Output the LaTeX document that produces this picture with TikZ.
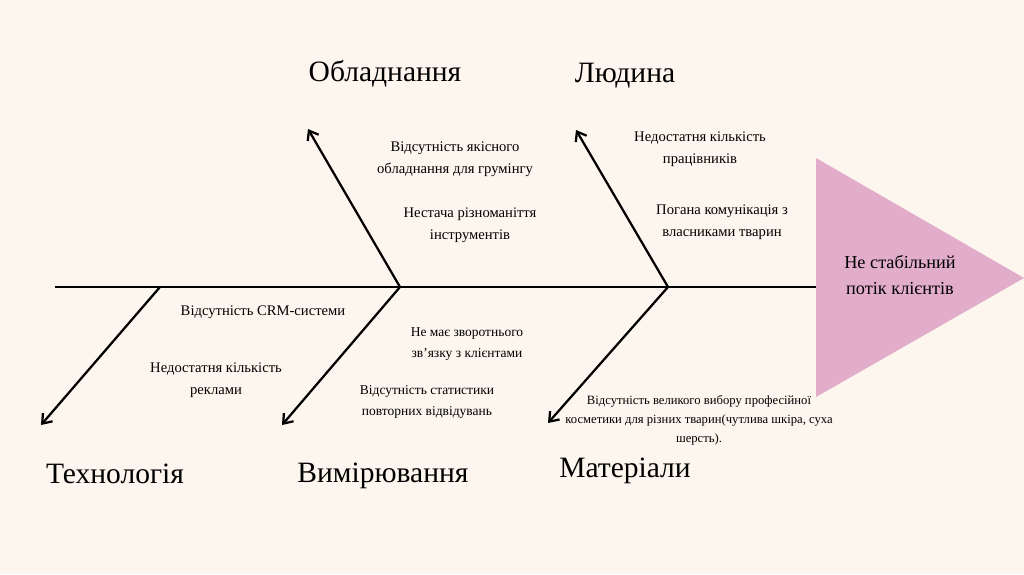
\documentclass[tikz,border=0pt]{standalone}
\usepackage{fontspec}
\setmainfont{Liberation Serif}
\usetikzlibrary{arrows.meta}
\definecolor{bgcream}{RGB}{253,246,238}
\definecolor{headpink}{RGB}{226,172,203}

\begin{document}
\begin{tikzpicture}[x=0.025cm, y=-0.025cm,
  spine/.style={line width=1.8pt},
  bone/.style={line width=1.6pt, -{Straight Barb[length=6pt, width=9pt]}},
  cat/.style={font=\fontsize{21}{25}\selectfont},
  cause/.style={align=center, font=\fontsize{10.4}{16}\selectfont},
  smallcause/.style={align=center, font=\fontsize{9.6}{14.5}\selectfont}]

  % фон і межі
  \fill[bgcream] (0,0) rectangle (1024,574);

  % хребет і голова
  \coordinate (S) at (55,287);
  \coordinate (H) at (816,287);
  \coordinate (J1) at (160,287);
  \coordinate (J2) at (400,287);
  \coordinate (J3) at (668,287);
  \fill[headpink] (816,158) -- (816,397) -- (1024,278) -- cycle;
  \draw[spine] (S) -- (H);

  % кістки
  \coordinate (T1) at (308,129);
  \coordinate (T2) at (576,130);
  \coordinate (B1) at (41,425);
  \coordinate (B2) at (282,425);
  \coordinate (B3) at (548,423);
  \draw[bone] (J2) -- (T1);
  \draw[bone] (J3) -- (T2);
  \draw[bone] (J1) -- (B1);
  \draw[bone] (J2) -- (B2);
  \draw[bone] (J3) -- (B3);

  % категорії
  \node[cat] (obl) at (385,74) {Обладнання};
  \node[cat] (lyud) at (625,76) {Людина};
  \node[cat] (tekh) at (115,474) {Технологія};
  \node[cat] (vym) at (383,476) {Вимірювання};
  \node[cat] (mat) at (625,471) {Матеріали};

  % наслідок
  \node[align=center, font=\fontsize{13}{18}\selectfont] (effect) at (900,275)
    {Не стабільний\\потік клієнтів};

  % причини
  \node[cause] (c1) at (455,159) {Відсутність якісного\\обладнання для грумінгу};
  \node[cause] (c2) at (470,225) {Нестача різноманіття\\інструментів};
  \node[cause] (c3) at (700,149) {Недостатня кількість\\працівників};
  \node[cause] (c4) at (722,222) {Погана комунікація з\\власниками тварин};
  \node[cause] (c5) at (263,312) {Відсутність CRM-системи};
  \node[cause] (c6) at (216,380) {Недостатня кількість\\реклами};
  \node[smallcause] (c7) at (467,344) {Не має зворотнього\\зв’язку з клієнтами};
  \node[smallcause] (c8) at (427,402) {Відсутність статистики\\повторних відвідувань};
  \node[align=center, font=\fontsize{9}{13.5}\selectfont] (c9) at (699,420)
    {Відсутність великого вибору професійної\\косметики для різних тварин(чутлива шкіра, суха\\шерсть).};
\end{tikzpicture}
\end{document}
